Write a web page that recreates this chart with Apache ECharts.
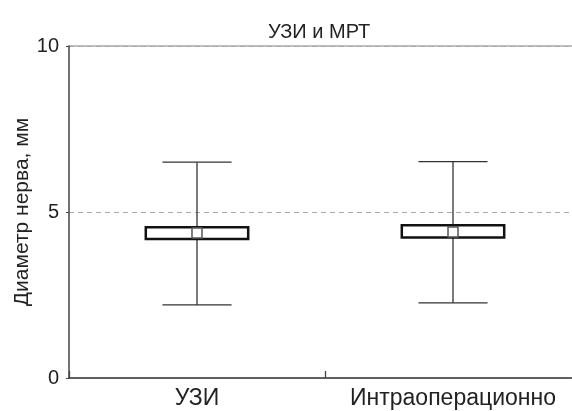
<!DOCTYPE html>
<html><head><meta charset="utf-8">
<script src="https://cdn.jsdelivr.net/npm/echarts@6/dist/echarts.min.js"></script>
<style>html,body{margin:0;padding:0;background:#fff}#c{width:572px;height:411px}</style>
</head><body><div id="c"></div>
<script>
var categories = ['УЗИ', 'Интраоперационно'];
var whiskerLow = [2.20, 2.26];
var boxLow = [4.19, 4.23];
var meanVal = [4.37, 4.40];
var boxHigh = [4.54, 4.60];
var whiskerHigh = [6.50, 6.52];
var yTicks = [0, 5, 10];

var FONT = 'Liberation Sans';
var data = categories.map(function (c, i) {
  return [i, whiskerLow[i], boxLow[i], meanVal[i], boxHigh[i], whiskerHigh[i]];
});

function renderItem(params, api) {
  var idx = api.value(0);
  var band = api.size([1, 0])[0];
  var pLow = api.coord([idx, api.value(1)]);
  var pBL = api.coord([idx, api.value(2)]);
  var pMean = api.coord([idx, api.value(3)]);
  var pBH = api.coord([idx, api.value(4)]);
  var pHigh = api.coord([idx, api.value(5)]);
  var x = pLow[0];
  var boxW = band * 0.4;
  var capW = band * 0.27;
  var sq = 10;
  var lineStyle = { stroke: '#333', lineWidth: 1.3 };
  return {
    type: 'group',
    children: [
      { type: 'line', shape: { x1: x, y1: pLow[1], x2: x, y2: pHigh[1] }, style: lineStyle },
      { type: 'line', shape: { x1: x - capW / 2, y1: pLow[1], x2: x + capW / 2, y2: pLow[1] }, style: lineStyle },
      { type: 'line', shape: { x1: x - capW / 2, y1: pHigh[1], x2: x + capW / 2, y2: pHigh[1] }, style: lineStyle },
      { type: 'rect', shape: { x: x - boxW / 2, y: pBH[1], width: boxW, height: pBL[1] - pBH[1] },
        style: { fill: '#fff', stroke: '#111', lineWidth: 2.5 } },
      { type: 'rect', shape: { x: x - sq / 2, y: pMean[1] - sq / 2, width: sq, height: sq },
        style: { fill: '#fff', stroke: '#555', lineWidth: 1.5 } }
    ]
  };
}

var chart = echarts.init(document.getElementById('c'), null, { renderer: 'canvas' });
chart.setOption({
  animation: false,
  backgroundColor: '#fff',
  title: {
    text: 'УЗИ и МРТ',
    left: 263, top: 17,
    textStyle: { fontFamily: FONT, fontSize: 20, fontWeight: 'normal', color: '#222' }
  },
  grid: { left: 69, width: 512, top: 46, bottom: 33, containLabel: false, outerBoundsMode: 'none' },
  xAxis: {
    type: 'category',
    data: categories,
    boundaryGap: true,
    axisLine: { lineStyle: { color: '#444', width: 1.5 } },
    axisTick: { show: true, inside: true, length: 7, interval: 0, lineStyle: { color: '#444', width: 1.3 } },
    axisLabel: { fontFamily: FONT, fontSize: 23, color: '#222', margin: 9, interval: 0, hideOverlap: false }
  },
  yAxis: [{
    type: 'value',
    min: yTicks[0], max: yTicks[yTicks.length - 1], interval: yTicks[1] - yTicks[0],
    name: 'Диаметр нерва, мм',
    nameLocation: 'middle', nameRotate: 90, nameGap: 36, nameMoveOverlap: false,
    nameTextStyle: { fontFamily: FONT, fontSize: 21, color: '#222' },
    axisLine: { show: true, lineStyle: { color: '#444', width: 1.5 } },
    axisTick: { show: true, length: 3, lineStyle: { color: '#444' } },
    axisLabel: { fontFamily: FONT, fontSize: 20, color: '#222', margin: 10 },
    splitLine: { show: true, lineStyle: { color: '#aaa', type: [5, 4], width: 1.2 } }
  }, {
    type: 'value',
    min: yTicks[0], max: yTicks[yTicks.length - 1], interval: yTicks[yTicks.length - 1],
    position: 'left',
    axisLine: { show: false }, axisTick: { show: false }, axisLabel: { show: false },
    splitLine: { show: true, lineStyle: { color: '#aaa', type: 'solid', width: 1.6 } }
  }],
  series: [{
    type: 'custom',
    renderItem: renderItem,
    data: data,
    encode: { x: 0, y: [1, 2, 3, 4, 5] },
    z: 10
  }]
});
</script></body></html>
